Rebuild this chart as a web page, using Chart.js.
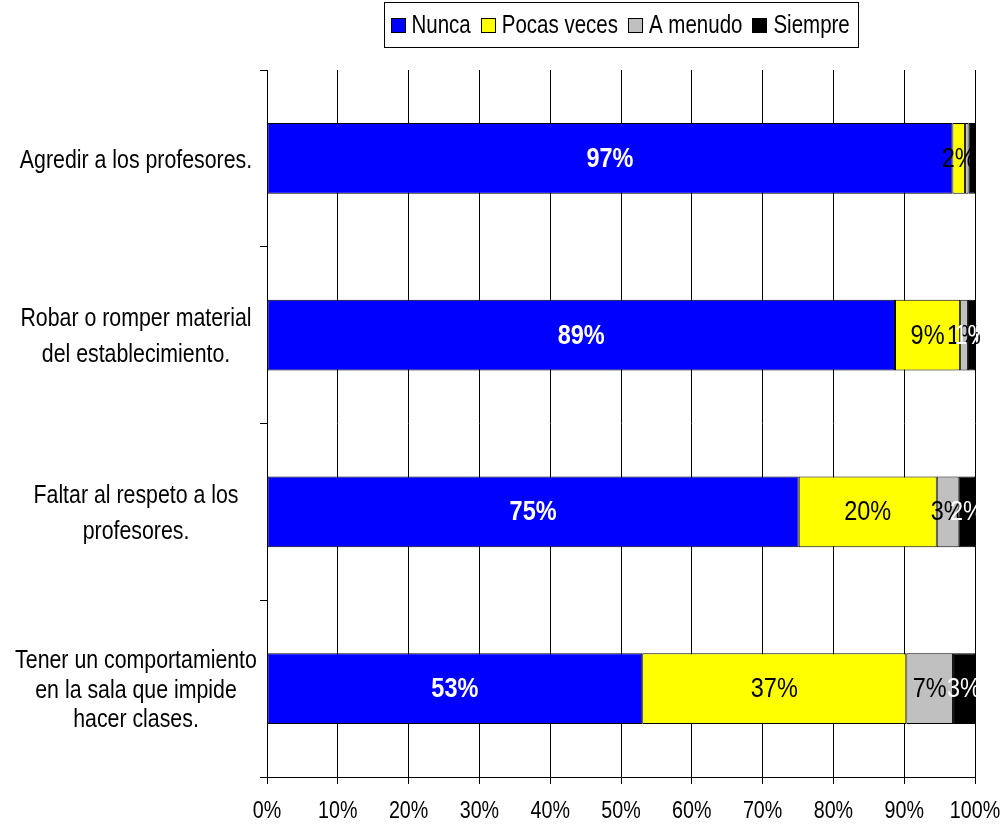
<!DOCTYPE html>
<html>
<head>
<meta charset="utf-8">
<script src="https://cdn.jsdelivr.net/npm/chart.js@4.4.1/dist/chart.umd.min.js"></script>
<style>
  html, body { margin: 0; padding: 0; background: #fff; }
  #wrap { width: 1005px; height: 827px; }
</style>
</head>
<body>
<div id="wrap"><canvas id="chart" width="1005" height="827"></canvas></div>
<script>
(function () {
    "use strict";

    var FONT = "'Liberation Sans', Arial, sans-serif";
    var SQUEEZE = 0.82; // the reference text is a narrow face

    // categories (top to bottom)
    var categories = [
        ["Agredir a los profesores."],
        ["Robar o romper material", "del establecimiento."],
        ["Faltar al respeto a los", "profesores."],
        ["Tener un comportamiento", "en la sala que impide", "hacer clases."]
    ];

    var seriesNames = ["Nunca", "Pocas veces", "A menudo", "Siempre"];
    var seriesColors = ["#0000ff", "#ffff00", "#c0c0c0", "#000000"];
    var labelColors = ["#ffffff", "#000000", "#000000", "#ffffff"];
    var labelBold = [true, false, false, false];

    // percentages per category
    var nunca = [96.8, 88.7, 75.1, 53.0];
    var pocasVeces = [1.8, 9.2, 19.5, 37.3];
    var aMenudo = [0.5, 1.1, 3.1, 6.6];
    var siempre = [0.9, 1.0, 2.3, 3.1];

    var tickValues = [0, 10, 20, 30, 40, 50, 60, 70, 80, 90, 100];

    var seriesData = [nunca, pocasVeces, aMenudo, siempre];

    var datasets = seriesData.map(function (d, i) {
        return {
            label: seriesNames[i],
            data: d,
            backgroundColor: seriesColors[i],
            borderColor: "#000000",
            borderWidth: 1,
            borderSkipped: false,
            barPercentage: 0.4,
            categoryPercentage: 1.0
        };
    });

    function narrowText(ctx, text, x, y, align, font, color, squeeze) {
        ctx.save();
        ctx.font = font;
        ctx.fillStyle = color;
        ctx.textAlign = align;
        ctx.textBaseline = "middle";
        ctx.translate(x, y);
        ctx.scale(squeeze || SQUEEZE, 1);
        ctx.fillText(text, 0, 0);
        ctx.restore();
    }

    function narrowWidth(ctx, text, font) {
        ctx.save();
        ctx.font = font;
        var w = ctx.measureText(text).width * SQUEEZE;
        ctx.restore();
        return w;
    }

    // value labels inside the bars
    var valueLabels = {
        id: "valueLabels",
        afterDatasetsDraw: function (chart) {
            var ctx = chart.ctx;
            chart.data.datasets.forEach(function (ds, i) {
                var meta = chart.getDatasetMeta(i);
                meta.data.forEach(function (bar, j) {
                    var v = ds.data[j];
                    if (v < 1) return;
                    var cx = (bar.x + bar.base) / 2;
                    var font = (labelBold[i] ? "bold " : "") + "27px " + FONT;
                    narrowText(ctx, Math.round(v) + "%", cx, bar.y + 1, "center", font, labelColors[i], 0.87);
                });
            });
        }
    };

    // axis texts drawn narrow, placed by the scales
    var axisTexts = {
        id: "axisTexts",
        afterDraw: function (chart) {
            var ctx = chart.ctx;
            var xs = chart.scales.x, ys = chart.scales.y;
            var tickFont = "24px " + FONT;
            tickValues.forEach(function (v) {
                narrowText(ctx, v + "%", xs.getPixelForValue(v), 811, "center", tickFont, "#000");
            });
            var catFont = "26px " + FONT;
            categories.forEach(function (lines, i) {
                var yc = ys.getPixelForValue(i) + 2;
                var step = lines.length > 2 ? 29.5 : 36;
                var y0 = yc - step * (lines.length - 1) / 2;
                lines.forEach(function (line, k) {
                    narrowText(ctx, line, 136, y0 + k * step, "center", catFont, "#000");
                });
            });
        }
    };

    // boxed legend centred over the plot area
    var boxLegend = {
        id: "boxLegend",
        afterDraw: function (chart) {
            var ctx = chart.ctx;
            var area = chart.chartArea;
            var font = "25px " + FONT;
            var sq = 14, gapText = 7, gapItem = 10, padL = 6, padR = 9;
            var widths = seriesNames.map(function (n) { return narrowWidth(ctx, n, font); });
            var total = padL + padR;
            widths.forEach(function (w, i) {
                total += sq + gapText + w + (i < widths.length - 1 ? gapItem : 0);
            });
            var left = Math.round((area.left + area.right) / 2 - total / 2) + 0.5;
            var top = 2.5, h = 45;
            ctx.save();
            ctx.strokeStyle = "#000";
            ctx.lineWidth = 1;
            ctx.strokeRect(left, top, Math.round(total), h);
            var x = left + padL;
            var cy = top + h / 2;
            seriesNames.forEach(function (n, i) {
                var sx = Math.round(x) + 0.5;
                var sy = Math.round(cy - sq / 2) + 0.5;
                ctx.fillStyle = seriesColors[i];
                ctx.fillRect(sx, sy, sq, sq);
                ctx.strokeRect(sx, sy, sq, sq);
                narrowText(ctx, n, x + sq + gapText, cy + 1, "left", font, "#000");
                x += sq + gapText + widths[i] + gapItem;
            });
            ctx.restore();
        }
    };

    new Chart(document.getElementById("chart").getContext("2d"), {
        type: "bar",
        data: { labels: categories, datasets: datasets },
        plugins: [valueLabels, axisTexts, boxLegend],
        options: {
            indexAxis: "y",
            responsive: false,
            animation: false,
            devicePixelRatio: 1,
            layout: { padding: { top: 70, right: 30, left: 0, bottom: 0 } },
            plugins: {
                legend: { display: false },
                tooltip: { enabled: false },
                title: { display: false }
            },
            scales: {
                x: {
                    stacked: true,
                    min: 0,
                    max: 100,
                    afterBuildTicks: function (scale) {
                        scale.ticks = tickValues.map(function (v) { return { value: v }; });
                    },
                    afterFit: function (scale) { scale.height = 50; },
                    grid: {
                        color: "#000000",
                        lineWidth: 1,
                        tickLength: 7,
                        drawOnChartArea: true
                    },
                    border: { color: "#000000", width: 1 },
                    ticks: { display: false }
                },
                y: {
                    stacked: true,
                    afterFit: function (scale) { scale.width = 267; },
                    grid: {
                        offset: true,
                        color: "#000000",
                        tickLength: 7,
                        drawOnChartArea: false
                    },
                    border: { color: "#000000", width: 1 },
                    ticks: { display: false }
                }
            }
        }
    });
})();
</script>
</body>
</html>
